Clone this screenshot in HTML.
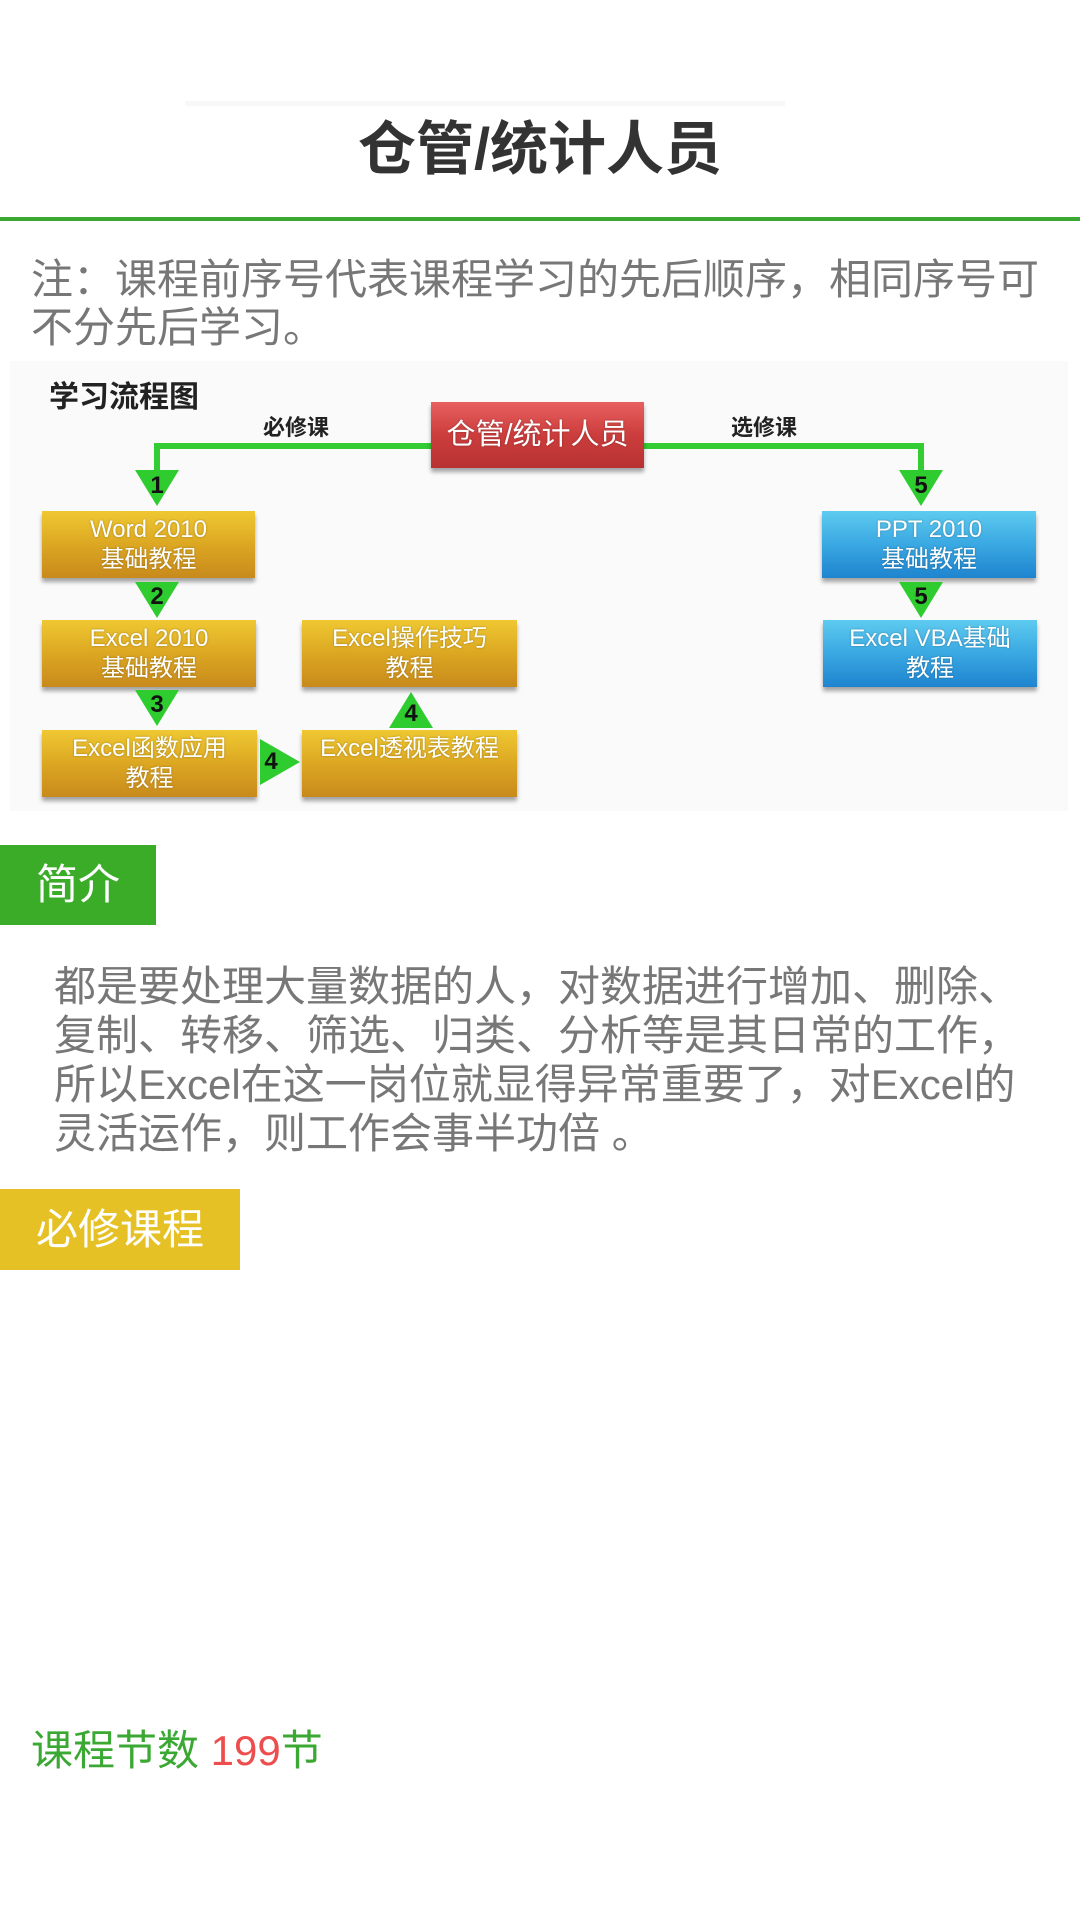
<!DOCTYPE html>
<html><head><meta charset="utf-8"><style>
*{margin:0;padding:0;box-sizing:border-box}
body{width:1080px;height:1920px;background:#fff;position:relative;overflow:hidden;font-family:"Liberation Sans","Noto Sans CJK SC",sans-serif}
.a{position:absolute}
.box{position:absolute;color:#fff;font-size:24px;line-height:30px;text-align:center;display:flex;flex-direction:column;justify-content:center;box-shadow:0 4px 4px rgba(0,0,0,.35);text-shadow:0 0 2px rgba(0,0,0,.3)}
.g{background:linear-gradient(#efc832,#dca722 50%,#c88a1c)}
.b{background:linear-gradient(#5ecbf0,#3aa8e2 50%,#1e84cf)}
.tri{position:absolute;width:0;height:0}
.dn{border-left:22px solid transparent;border-right:22px solid transparent;border-top:36px solid #2ecc2e}
.num{position:absolute;font-size:24px;font-weight:bold;color:#111;width:44px;text-align:center}
</style></head><body>
<div class="a" style="left:185px;top:101px;width:600px;height:5px;background:#f8f8f8"></div>
<div class="a" style="left:0;top:113px;width:1080px;text-align:center;font-size:58px;font-weight:bold;color:#333;line-height:74px">仓管/统计人员</div>
<div class="a" style="left:0;top:217px;width:1080px;height:4px;background:#3aa832"></div>
<div class="a" style="left:31px;top:256px;width:1030px;font-size:42px;line-height:48px;color:#777">注：课程前序号代表课程学习的先后顺序，相同序号可不分先后学习。</div>

<div class="a" style="left:10px;top:361px;width:1058px;height:450px;background:#fafafa"></div>
<div class="a" style="left:49px;top:372px;font-size:30px;font-weight:bold;color:#222">学习流程图</div>
<div class="a" style="left:263px;top:410px;font-size:22px;font-weight:bold;color:#222">必修课</div>
<div class="a" style="left:731px;top:410px;font-size:22px;font-weight:bold;color:#222">选修课</div>
<div class="a" style="left:154px;top:443px;width:770px;height:6px;background:#33cc33"></div>
<div class="a" style="left:154px;top:443px;width:6px;height:30px;background:#33cc33"></div>
<div class="a" style="left:918px;top:443px;width:6px;height:30px;background:#33cc33"></div>
<div class="box" style="left:431px;top:402px;width:213px;height:66px;background:linear-gradient(#e86060,#cc3d3d 50%,#b83232);font-size:29px">仓管/统计人员</div>

<div class="tri dn" style="left:135px;top:470px"></div><div class="num" style="left:135px;top:472px">1</div>
<div class="box g" style="left:42px;top:511px;width:213px;height:67px">Word 2010<br>基础教程</div>
<div class="tri dn" style="left:135px;top:582px"></div><div class="num" style="left:135px;top:583px">2</div>
<div class="box g" style="left:42px;top:620px;width:214px;height:67px">Excel 2010<br>基础教程</div>
<div class="tri dn" style="left:135px;top:690px"></div><div class="num" style="left:135px;top:691px">3</div>
<div class="box g" style="left:42px;top:730px;width:215px;height:67px">Excel函数应用<br>教程</div>
<div class="tri" style="left:260px;top:739px;border-top:23px solid transparent;border-bottom:23px solid transparent;border-left:40px solid #2ecc2e"></div><div class="num" style="left:256px;top:748px;width:30px">4</div>
<div class="box g" style="left:302px;top:730px;width:215px;height:67px;justify-content:flex-start;padding-top:4px">Excel透视表教程</div>
<div class="tri" style="left:389px;top:692px;border-left:22px solid transparent;border-right:22px solid transparent;border-bottom:36px solid #2ecc2e"></div><div class="num" style="left:389px;top:700px">4</div>
<div class="box g" style="left:302px;top:620px;width:215px;height:67px">Excel操作技巧<br>教程</div>

<div class="tri dn" style="left:899px;top:470px"></div><div class="num" style="left:899px;top:472px">5</div>
<div class="box b" style="left:822px;top:511px;width:214px;height:67px">PPT 2010<br>基础教程</div>
<div class="tri dn" style="left:899px;top:582px"></div><div class="num" style="left:899px;top:583px">5</div>
<div class="box b" style="left:823px;top:620px;width:214px;height:67px">Excel VBA基础<br>教程</div>

<div class="a" style="left:0;top:845px;width:156px;height:80px;background:#3aac28;color:#fff;font-size:42px;line-height:80px;text-align:center">简介</div>
<div class="a" style="left:54px;top:962px;width:980px;font-size:42px;line-height:49px;color:#777">都是要处理大量数据的人，对数据进行增加、删除、复制、转移、筛选、归类、分析等是其日常的工作，所以Excel在这一岗位就显得异常重要了，对Excel的灵活运作，则工作会事半功倍 。</div>
<div class="a" style="left:0;top:1189px;width:240px;height:81px;background:#e6c126;color:#fff;font-size:42px;line-height:81px;text-align:center">必修课程</div>
<div class="a" style="left:31px;top:1725px;font-size:42px;line-height:52px;color:#3aa832">课程节数 <span style="color:#ee4d4d">199</span>节</div>
</body></html>
